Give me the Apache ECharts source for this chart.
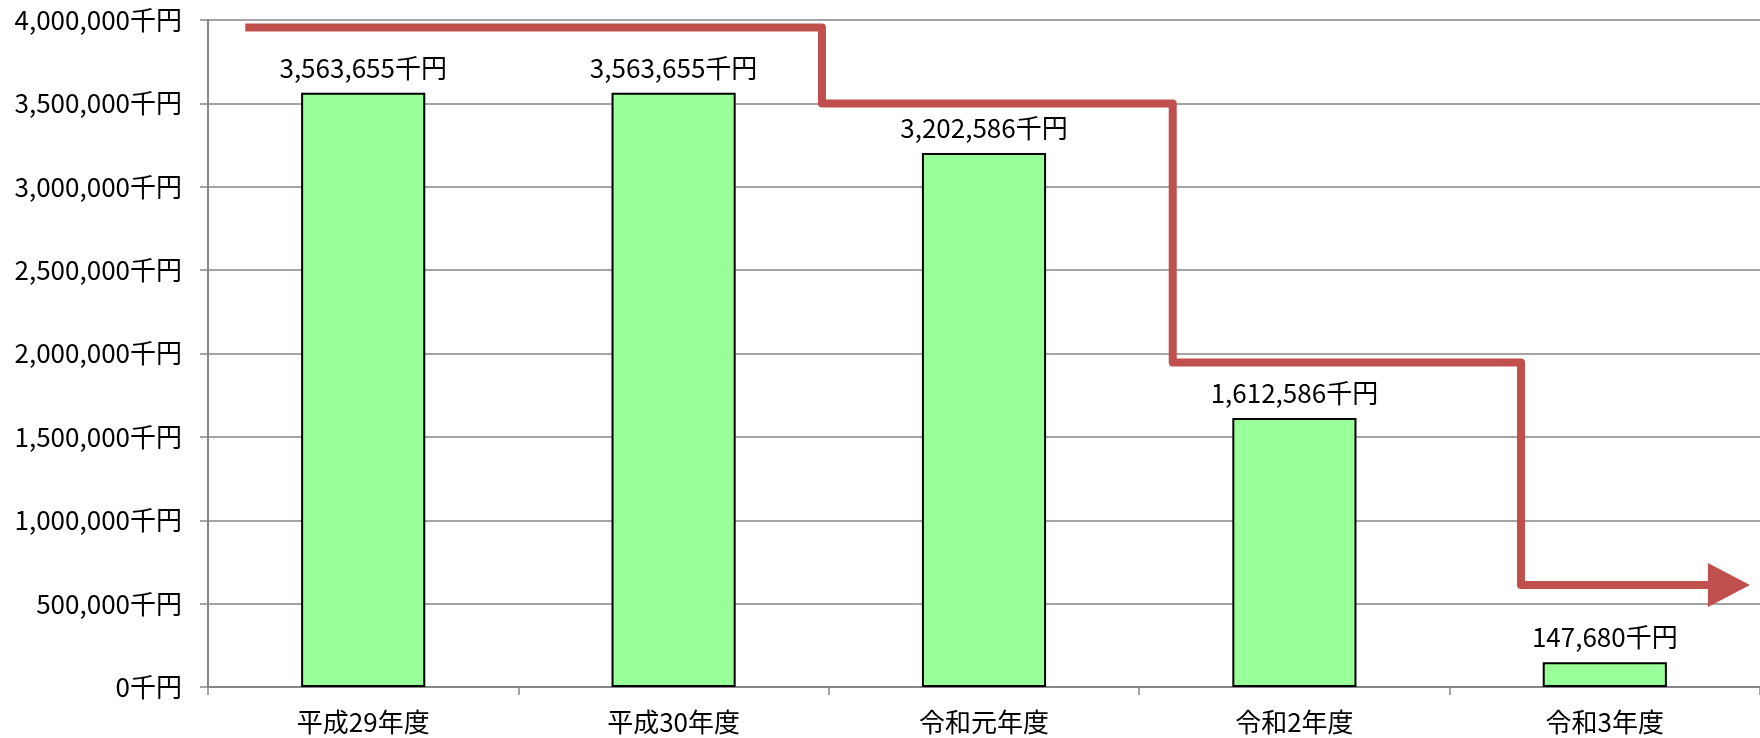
<!DOCTYPE html>
<html>
<head>
<meta charset="utf-8">
<script src="https://cdn.jsdelivr.net/npm/echarts@6/dist/echarts.min.js"></script>
<style>
html,body{margin:0;padding:0;background:#fff;}
#c{width:1760px;height:738px;}
</style>
</head>
<body>
<div id="c"></div>
<script>
// Data
const categories = ['平成29年度', '平成30年度', '令和元年度', '令和2年度', '令和3年度'];
const amounts = [3563655, 3563655, 3202586, 1612586, 147680];
const yTicks = [0, 500000, 1000000, 1500000, 2000000, 2500000, 3000000, 3500000, 4000000];
// Decorative downward step arrow (x in category units, y in 千円)
const stepBreaks = [0.12, 1.978, 3.108, 4.23, 4.9];
const stepLevels = [3955000, 3500000, 1946000, 612000];

const FONT = '"Noto Sans CJK JP", "Noto Sans", sans-serif';
const fmt = v => Number(v).toLocaleString('en-US') + '千円';

// build step-line points
const stepPoints = [];
for (let i = 0; i < stepLevels.length; i++) {
  stepPoints.push([stepBreaks[i], stepLevels[i]]);
  stepPoints.push([stepBreaks[i + 1], stepLevels[i]]);
}
const stepData = stepPoints.map((p, i) => {
  if (i === stepPoints.length - 1) {
    return { value: p, symbol: 'triangle', symbolSize: [44, 42], symbolRotate: -90,
             itemStyle: { color: '#C0504D' } };
  }
  return { value: p, symbol: 'none' };
});

const chart = echarts.init(document.getElementById('c'));
chart.setOption({
  animation: false,
  backgroundColor: '#ffffff',
  textStyle: { fontFamily: FONT },
  grid: { left: 208, right: -12, top: 20, bottom: 51, containLabel: false },
  xAxis: [{
    type: 'category',
    data: categories,
    boundaryGap: true,
    axisLine: { lineStyle: { color: '#868686', width: 2 } },
    axisTick: { show: true, length: 8, alignWithLabel: false, lineStyle: { color: '#868686', width: 1.5 } },
    axisLabel: { color: '#000', fontSize: 26, fontFamily: FONT, margin: 22 },
    splitLine: { show: false }
  }, {
    type: 'value',
    min: 0, max: 5,
    show: false,
    splitLine: { show: false }
  }],
  yAxis: {
    type: 'value',
    min: yTicks[0],
    max: yTicks[yTicks.length - 1],
    interval: yTicks[1] - yTicks[0],
    axisLine: { show: true, lineStyle: { color: '#868686', width: 2 } },
    axisTick: { show: true, length: 8, lineStyle: { color: '#868686', width: 1.5 } },
    axisLabel: { color: '#000', fontSize: 26, fontFamily: FONT, margin: 26, formatter: fmt },
    splitLine: { show: true, lineStyle: { color: '#868686', width: 1.5 } }
  },
  series: [{
    type: 'bar',
    data: amounts,
    barWidth: '40%',
    itemStyle: { color: '#99FF99', borderColor: '#000', borderWidth: 2 },
    label: {
      show: true, position: 'top', distance: 12,
      color: '#000', fontSize: 26, fontFamily: FONT,
      formatter: p => fmt(p.value)
    },
    z: 2
  }, {
    type: 'line',
    xAxisIndex: 1,
    data: stepData,
    lineStyle: { color: '#C0504D', width: 8, join: 'round', cap: 'butt' },
    itemStyle: { color: '#C0504D' },
    showSymbol: true,
    z: 5
  }]
});
</script>
</body>
</html>
